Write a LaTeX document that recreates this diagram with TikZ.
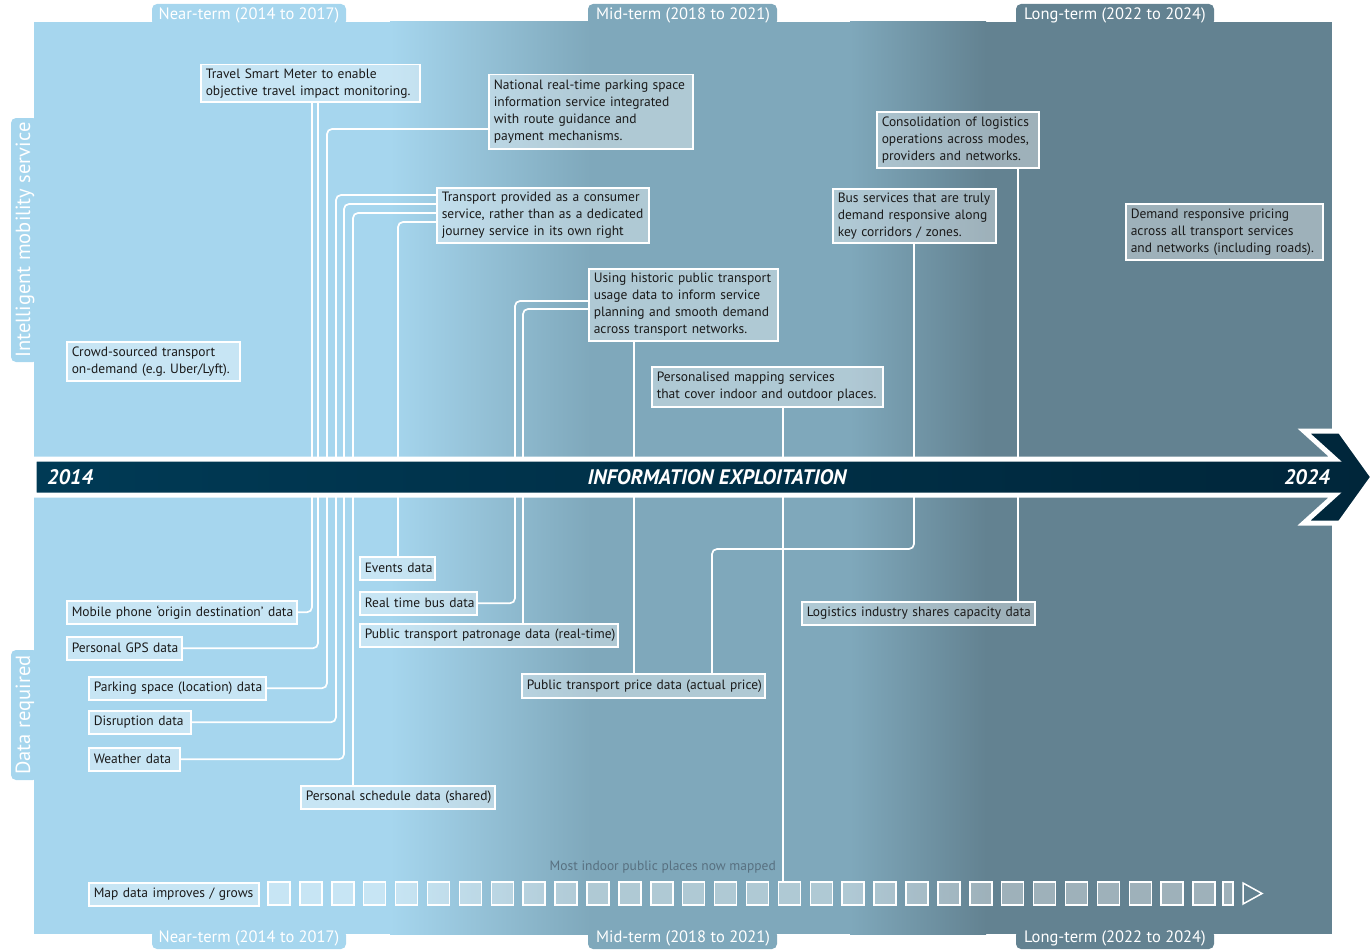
\documentclass[tikz,border=0pt]{standalone}
\usepackage{fontspec}
\setmainfont{PT Sans}
\usetikzlibrary{calc}
\frenchspacing
\definecolor{cA}{HTML}{A6D6EE}
\definecolor{cB}{HTML}{7FA8BB}
\definecolor{cC}{HTML}{638291}
\definecolor{navyL}{HTML}{003A55}
\definecolor{navyR}{HTML}{00263A}
\definecolor{txt}{HTML}{1A1A1A}
\definecolor{note}{HTML}{587080}
\tikzset{
  box/.style={draw=white, line width=1.5, fill=white, fill opacity=0.38, text opacity=1,
    text=txt, anchor=north west, align=left, inner xsep=5, inner ysep=2,
    font=\fontsize{13.5}{17}\selectfont},
  conn/.style={draw=white, line width=1.7, rounded corners=5},
  sq/.style={draw=white, line width=1.5, fill=white, fill opacity=0.38, minimum width=22, minimum height=23, inner sep=0},
  term/.style={text=white, font=\fontsize{16.5}{16.5}\selectfont, inner sep=0},
  side/.style={text=white, font=\fontsize{20.5}{20.5}\selectfont, inner sep=0, rotate=90},
  bandtxt/.style={text=white, font=\fontsize{21}{21}\selectfont\bfseries\itshape, inner sep=0},
  tab/.style={rounded corners=5}
}
\begin{document}
\begin{tikzpicture}[x=1pt, y=-1pt]
\useasboundingbox (0,0) rectangle (1371,950);
% panel background
\fill[cA] (34,22) rectangle (391,934);
\shade[left color=cA, right color=cB] (390,22) rectangle (591,934);
\fill[cB] (590,22) rectangle (851,934);
\shade[left color=cB, right color=cC] (850,22) rectangle (986,934);
\fill[cC] (985,22) rectangle (1332,934);
% tabs
\fill[cA, tab] (152,4) rectangle (346,26);
\fill[cB, tab] (588,4) rectangle (777,26);
\fill[cC, tab] (1016,4) rectangle (1214,26);
\fill[cA, tab] (152,930) rectangle (346,949);
\fill[cB, tab] (588,930) rectangle (777,949);
\fill[cC, tab] (1016,930) rectangle (1214,949);
\fill[cA, tab] (11,118) rectangle (38,362);
\fill[cA, tab] (11,650) rectangle (38,780);
\node[term] (tNear) at (249,15) {Near-term (2014 to 2017)};
\node[term] (tMid) at (683,15) {Mid-term (2018 to 2021)};
\node[term] (tLong) at (1115,15) {Long-term (2022 to 2024)};
\node[term] (bNear) at (249,938) {Near-term (2014 to 2017)};
\node[term] (bMid) at (683,938) {Mid-term (2018 to 2021)};
\node[term] (bLong) at (1115,938) {Long-term (2022 to 2024)};
\node[side] (sIMS) at (25,240) {Intelligent mobility service};
\node[side] (sDR) at (25,715) {Data required};

% top boxes
\node[box, text width=209, minimum height=37] (tsm) at (200,64) {\mbox{Travel Smart Meter to enable}\\\mbox{objective travel impact monitoring.}};
\node[box, text width=194, minimum height=74] (nat) at (488,74) {\mbox{National real-time parking space}\\\mbox{information service integrated}\\with route guidance and\\payment mechanisms.};
\node[box, text width=202, minimum height=55] (trans) at (436,187) {\mbox{Transport provided as a consumer}\\\mbox{service, rather than as a dedicated}\\\mbox{journey service in its own right}};
\node[box, text width=179, minimum height=72] (hist) at (588,268) {\mbox{Using historic public transport}\\\mbox{usage data to inform service}\\\mbox{planning and smooth demand}\\\mbox{across transport networks.}};
\node[box, text width=221, minimum height=40] (pmap) at (651,366) {\mbox{Personalised mapping services}\\\mbox{that cover indoor and outdoor places.}};
\node[box, text width=152, minimum height=56] (cons) at (876,111) {\mbox{Consolidation of logistics}\\\mbox{operations across modes,}\\\mbox{providers and networks.}};
\node[box, text width=153, minimum height=54] (bus) at (832,188) {\mbox{Bus services that are truly}\\\mbox{demand responsive along}\\\mbox{key corridors / zones.}};
\node[box, text width=187, minimum height=56] (dem) at (1125,203) {\mbox{Demand responsive pricing}\\\mbox{across all transport services}\\\mbox{and networks (including roads).}};
\node[box, text width=163, minimum height=39] (crowd) at (66,341) {\mbox{Crowd-sourced transport}\\\mbox{on-demand (e.g. Uber/Lyft).}};

% bottom boxes
\node[box, text width=220, minimum height=23] (mob) at (66,600) {\mbox{Mobile phone ‘origin destination’ data}};
\node[box, text width=105, minimum height=23] (gps) at (66,636) {\mbox{Personal GPS data}};
\node[box, text width=167, minimum height=23] (park) at (88,676) {\mbox{Parking space (location) data}};
\node[box, text width=92, minimum height=23] (dis) at (88,710) {\mbox{Disruption data}};
\node[box, text width=81, minimum height=23] (wea) at (88,747) {\mbox{Weather data}};
\node[box, text width=184, minimum height=23] (sched) at (300,785) {\mbox{Personal schedule data (shared)}};
\node[box, text width=65, minimum height=23] (evt) at (359,556) {\mbox{Events data}};
\node[box, text width=107, minimum height=23] (rtb) at (359,591) {\mbox{Real time bus data}};
\node[box, text width=248, minimum height=23] (pat) at (359,623) {\mbox{Public transport patronage data (real-time)}};
\node[box, text width=233, minimum height=24] (price) at (521,673) {\mbox{Public transport price data (actual price)}};
\node[box, text width=223, minimum height=23] (log) at (801,601) {\mbox{Logistics industry shares capacity data}};
\node[box, text width=160, minimum height=23] (map) at (88,882) {\mbox{Map data improves / grows}};

% map squares
\foreach \k in {0,...,29} {
  \node[sq] (sq\k) at ({279+31.9*\k}, 893.5) {};
}
\node[sq, minimum width=10] (sqend) at (1228,893.5) {};
\draw[white, line width=1.5, line join=miter] (1243,883) -- (1262,893.5) -- (1243,904) -- cycle;
\node[text=note, anchor=east, inner sep=0, font=\fontsize{13.5}{13.5}\selectfont] (mapnote) at (776,867) {Most indoor public places now mapped};

% connectors
\draw[conn] (312,0 |- tsm.south) |- (mob.east);
\draw[conn] (318,0 |- tsm.south) |- (gps.east);
\draw[conn] (nat.west |- 0,129) -- (327,129) |- (park.east);
\draw[conn] (trans.west |- 0,195) -- (336,195) |- (dis.east);
\draw[conn] (trans.west |- 0,204) -- (344,204) |- (wea.east);
\draw[conn] (trans.west |- 0,213) -| (353,0 |- sched.north);
\draw[conn] (trans.west |- 0,222) -| (398,0 |- evt.north);
\draw[conn] (hist.west |- 0,301) -- (515,301) |- (rtb.east);
\draw[conn] (hist.west |- 0,309) -| (523,0 |- pat.north);
\draw[conn] (634,0 |- hist.south) -- (634,0 |- price.north);
\draw[conn] (783,0 |- pmap.south) -- (783,0 |- sq16.north);
\draw[conn] (914,0 |- bus.south) -- (914,549) -| (712,0 |- price.north);
\draw[conn] (1018,0 |- cons.south) -- (1018,0 |- log.north);

% main arrow band
\draw[white, line width=5, line join=miter, left color=navyL, right color=navyR]
  (34,459) -- (1335,459) -- (1304,431) -- (1340,431) -- (1373,477)
  -- (1340,523) -- (1304,523) -- (1335,495) -- (34,495) -- cycle;
\node[bandtxt, anchor=west] (y2014) at (47,477) {2014};
\node[bandtxt] (infoex) at (717,477) {INFORMATION EXPLOITATION};
\node[bandtxt, anchor=east] (y2024) at (1330,477) {2024};
\end{tikzpicture}
\end{document}
